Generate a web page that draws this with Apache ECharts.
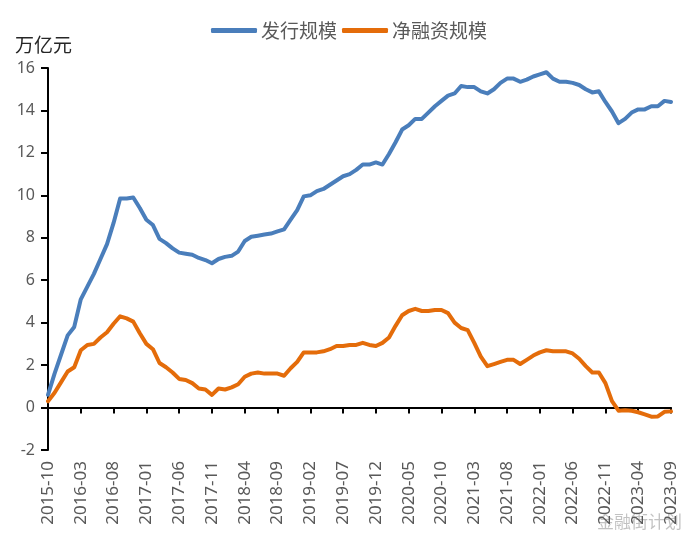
<!DOCTYPE html>
<html>
<head>
<meta charset="utf-8">
<script src="https://cdn.jsdelivr.net/npm/echarts@6/dist/echarts.min.js"></script>
<style>
html,body{margin:0;padding:0;background:#fff;}
#chart{width:700px;height:548px;}
</style>
</head>
<body>
<div id="chart"></div>
<script>
// Months 2015-10 .. 2023-09
const months = [];
for (let y = 2015, m = 10; !(y === 2023 && m === 10); ) {
  months.push(y + '-' + (m < 10 ? '0' + m : m));
  m++; if (m > 12) { m = 1; y++; }
}
const seriesNames = ['发行规模', '净融资规模'];
const issuance = [
  0.6, 1.6, 2.5, 3.4, 3.8, 5.1, 5.7, 6.3, 7.0, 7.7,
  8.7, 9.85, 9.85, 9.9, 9.4, 8.85, 8.6, 7.95, 7.75, 7.5,
  7.3, 7.25, 7.2, 7.05, 6.95, 6.8, 7.0, 7.1, 7.15, 7.35,
  7.85, 8.05, 8.1, 8.15, 8.2, 8.3, 8.4, 8.85, 9.3, 9.95,
  10.0, 10.2, 10.3, 10.5, 10.7, 10.9, 11.0, 11.2, 11.45, 11.45,
  11.55, 11.45, 11.95, 12.5, 13.1, 13.3, 13.6, 13.6, 13.9, 14.2,
  14.45, 14.7, 14.8, 15.15, 15.1, 15.1, 14.9, 14.8, 15.0, 15.3,
  15.5, 15.5, 15.35, 15.45, 15.6, 15.7, 15.8, 15.5, 15.35, 15.35,
  15.3, 15.2, 15.0, 14.85, 14.9, 14.4, 13.95, 13.4, 13.6, 13.9,
  14.05, 14.05, 14.2, 14.2, 14.45, 14.4
];
const netFinancing = [
  0.3, 0.7, 1.2, 1.7, 1.9, 2.7, 2.95, 3.0, 3.3, 3.55,
  3.95, 4.3, 4.2, 4.05, 3.5, 3.0, 2.75, 2.1, 1.9, 1.65,
  1.35, 1.3, 1.15, 0.9, 0.85, 0.6, 0.9, 0.85, 0.95, 1.1,
  1.45, 1.6, 1.65, 1.6, 1.6, 1.6, 1.5, 1.85, 2.15, 2.6,
  2.6, 2.6, 2.65, 2.75, 2.9, 2.9, 2.95, 2.95, 3.05, 2.95,
  2.9, 3.05, 3.3, 3.85, 4.35, 4.55, 4.65, 4.55, 4.55, 4.6,
  4.6, 4.45, 4.0, 3.75, 3.65, 3.05, 2.4, 1.95, 2.05, 2.15,
  2.25, 2.25, 2.05, 2.25, 2.45, 2.6, 2.7, 2.65, 2.65, 2.65,
  2.55, 2.3, 1.95, 1.65, 1.65, 1.15, 0.3, -0.15, -0.13, -0.15,
  -0.22, -0.32, -0.43, -0.42, -0.2, -0.18
];
const yMin = -2, yMax = 16, yStep = 2;
const unitLabel = '万亿元';

const chart = echarts.init(document.getElementById('chart'), null, {renderer: 'canvas'});
const colors = ['#4A7EBB', '#E46C0A'];
chart.setOption({
  animation: false,
  color: colors,
  legend: {
    top: 16,
    left: 206,
    itemWidth: 46,
    itemHeight: 5,
    itemGap: 5,
    icon: 'roundRect',
    textStyle: {fontSize: 19, color: '#595959', fontFamily: 'Noto Sans CJK SC', padding: [0, 0, 0, -1]},
    data: seriesNames
  },
  grid: {left: 48, right: 29, top: 68, bottom: 98, containLabel: false},
  xAxis: {
    type: 'category',
    data: months,
    boundaryGap: false,
    axisLine: {lineStyle: {color: '#000', width: 2}},
    axisTick: {show: true, interval: 4, length: 6, lineStyle: {color: '#000', width: 2}},
    axisLabel: {interval: 4, rotate: 90, margin: 11, fontSize: 17, color: '#595959', fontFamily: 'Noto Sans'},
    splitLine: {show: false}
  },
  yAxis: {
    type: 'value',
    min: yMin, max: yMax, interval: yStep,
    name: unitLabel,
    nameLocation: 'end',
    nameGap: 14,
    nameTextStyle: {fontSize: 19, color: '#262626', fontFamily: 'Noto Sans CJK SC', align: 'center', padding: [0, 9, 0, 0]},
    axisLine: {show: true, lineStyle: {color: '#000', width: 2}},
    axisTick: {show: true, length: 7, lineStyle: {color: '#000', width: 2}},
    axisLabel: {margin: 13, fontSize: 16, color: '#595959', fontFamily: 'Noto Sans'},
    splitLine: {show: false}
  },
  graphic: [{
    type: 'text',
    right: 18,
    bottom: 18,
    style: {text: '金融街计划', fontSize: 17, fill: 'rgba(120,120,120,0.45)', fontFamily: 'Noto Sans CJK SC'}
  }],
  series: [
    {name: seriesNames[0], type: 'line', data: issuance, symbol: 'none', smooth: false,
     lineStyle: {width: 4, cap: 'round', join: 'round'}},
    {name: seriesNames[1], type: 'line', data: netFinancing, symbol: 'none', smooth: false,
     lineStyle: {width: 4, cap: 'round', join: 'round'}}
  ]
});
</script>
</body>
</html>
